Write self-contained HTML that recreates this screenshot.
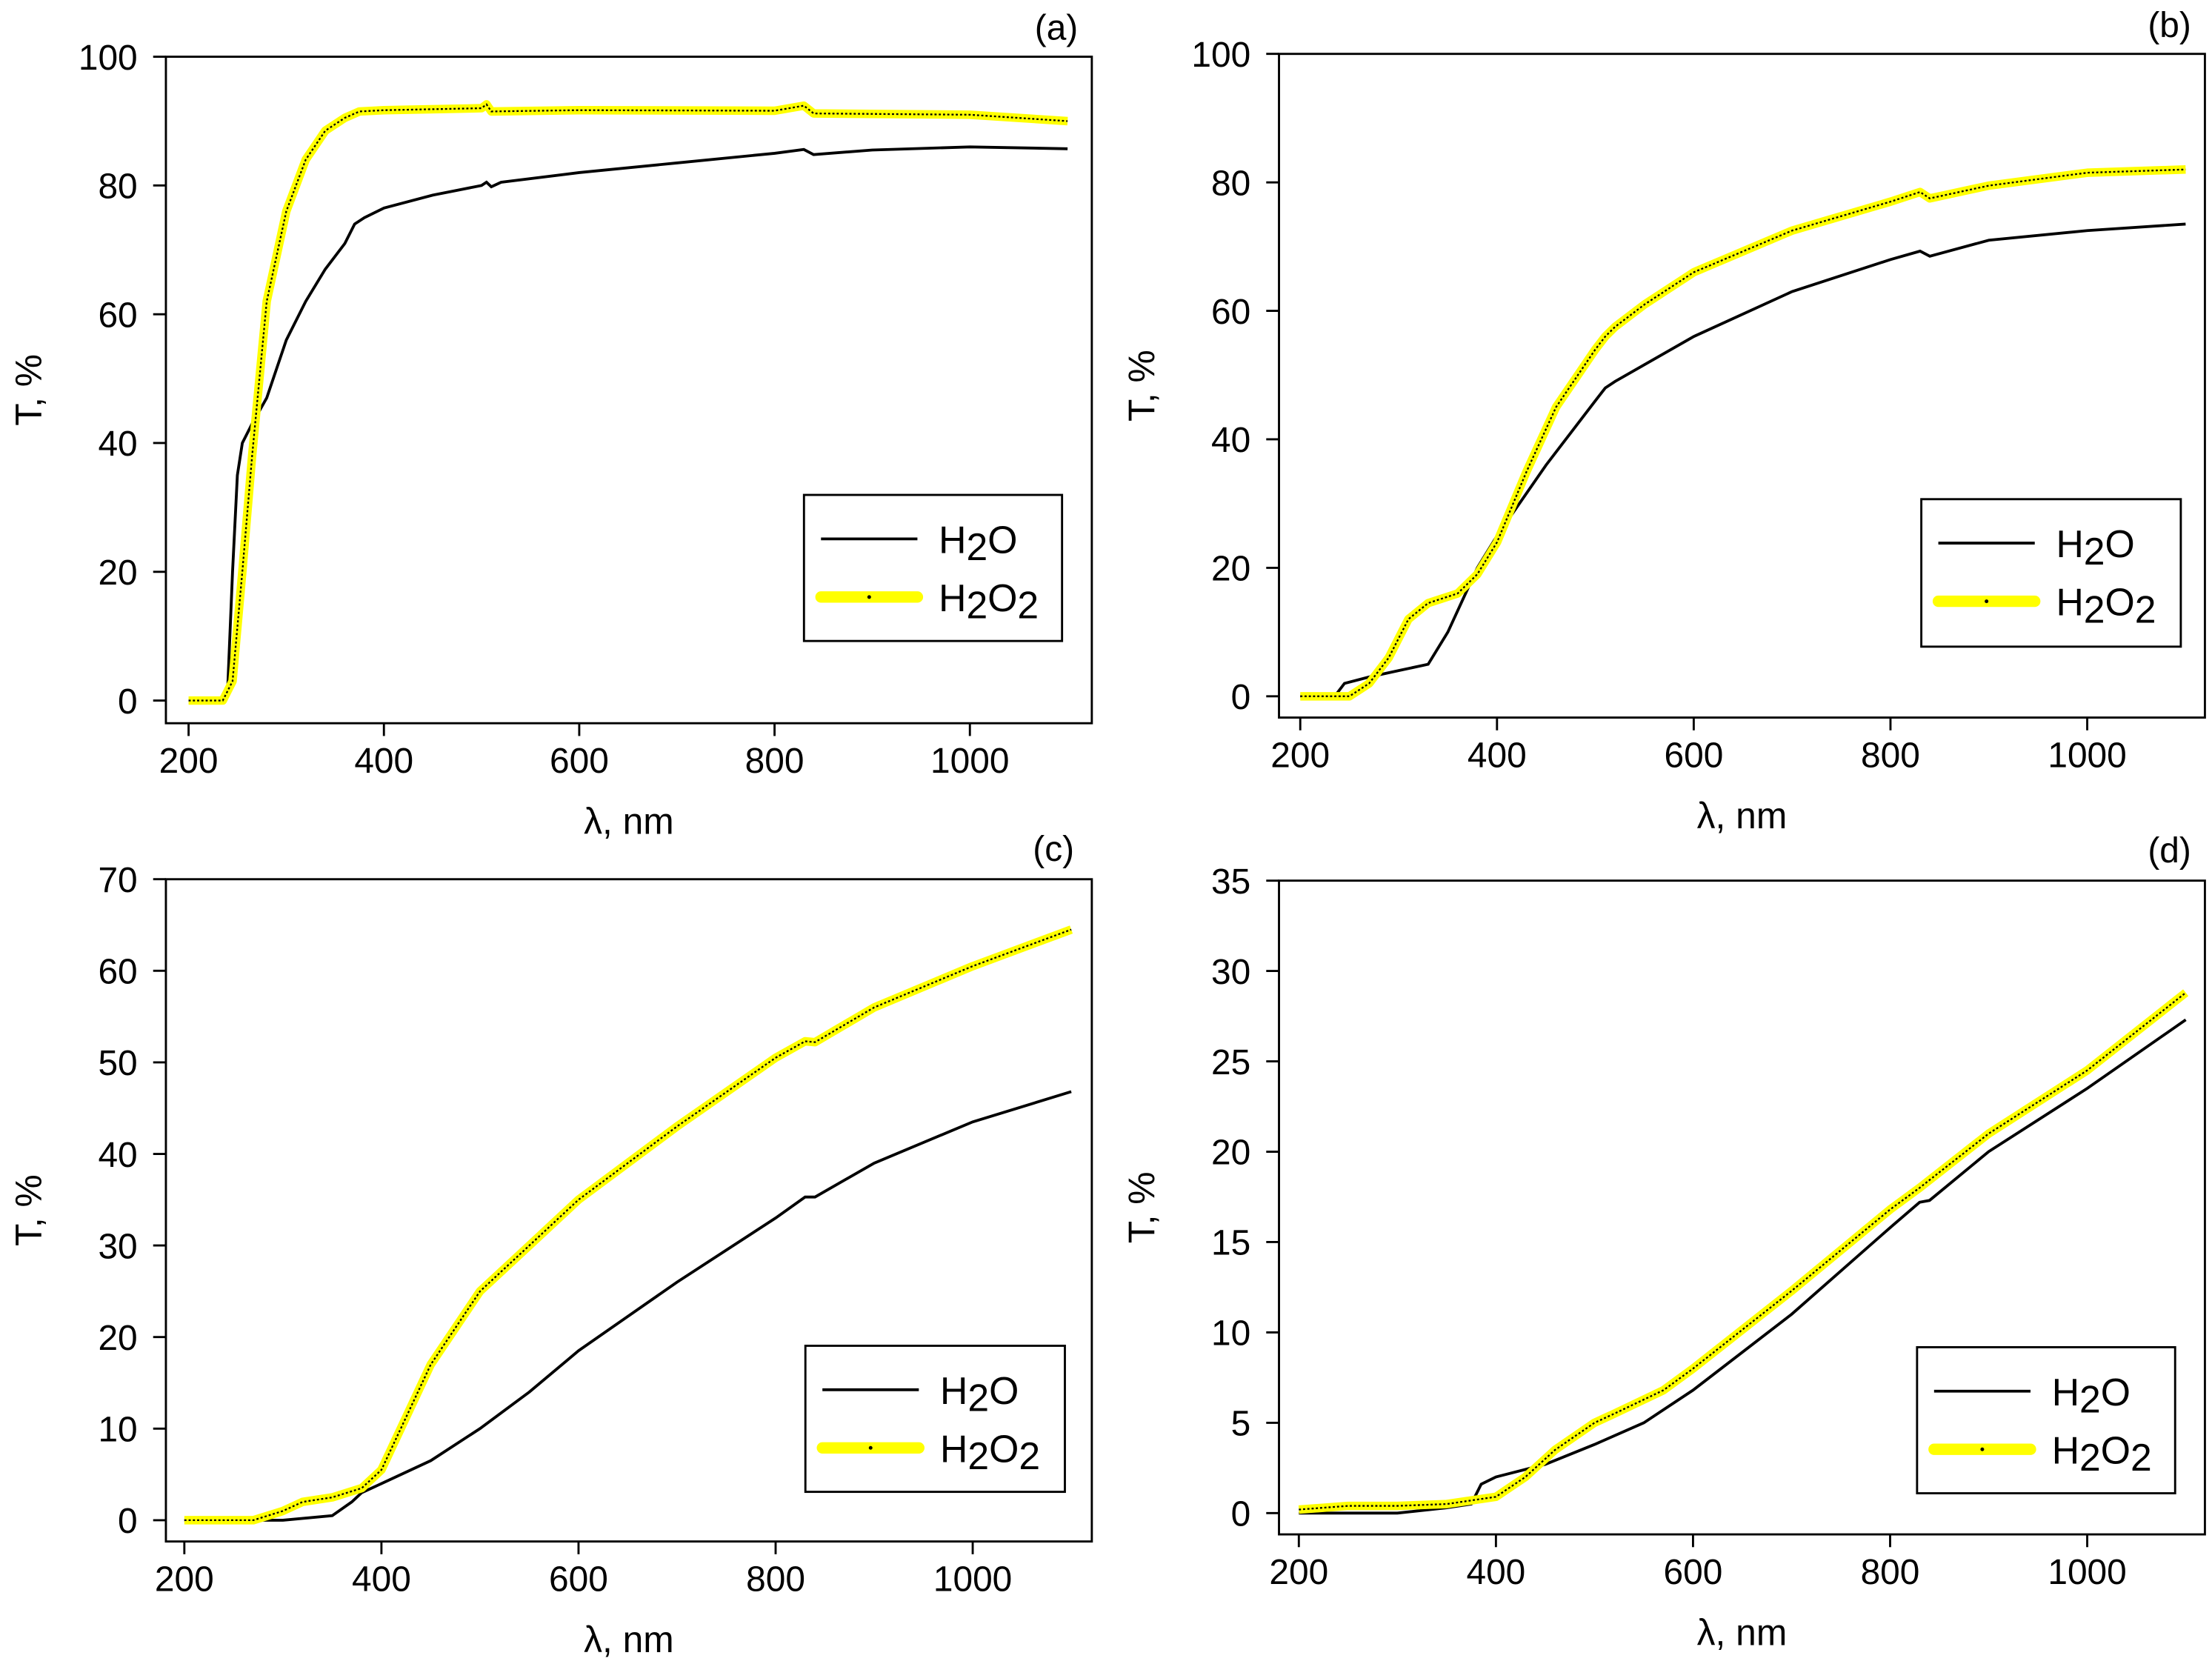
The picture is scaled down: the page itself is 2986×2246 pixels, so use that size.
<!DOCTYPE html>
<html><head><meta charset="utf-8"><style>
html,body{margin:0;padding:0;background:#fff}
svg{display:block}
text{font-family:"Liberation Sans",Arial,sans-serif;fill:#000}
</style></head><body>
<svg id="fig" xmlns="http://www.w3.org/2000/svg" width="2986" height="2246" viewBox="0 0 1560 1173.4"></svg>
<script>
// ---- data ----
const aWlH2O=[200,235,240,245,250,255,265,280,300,320,340,360,370,380,400,450,500,505,510,520,600,700,800,830,840,900,1000,1100];
const aH2O  =[0,0,2,20,35,40,43,47,56,62,67,71,74,75,76.5,78.5,80,80.5,79.8,80.5,82,83.5,85,85.6,84.8,85.5,86,85.7];
const aWlH2O2=[200,235,245,255,265,280,300,320,340,360,375,400,500,505,510,600,800,830,840,1000,1100];
const aH2O2 =[0,0,3,20,38,62,76,84,88.5,90.5,91.5,91.7,92,92.6,91.5,91.7,91.6,92.4,91.2,91,90];
const bWlH2O=[200,235,245,270,300,330,350,380,400,450,500,510,520,600,700,800,830,840,900,1000,1100];
const bH2O  =[0,0,2,3,4,5,10,20,25,36,46,48,49,56,63,68,69.3,68.5,71,72.5,73.5];
const bWlH2O2=[200,250,270,290,310,330,360,380,400,430,460,500,510,520,550,600,700,800,830,840,900,1000,1100];
const bH2O2 =[0,0,2,6,12,14.5,16,19,24,35,45,54,56,57.5,61,66,72.5,77,78.5,77.5,79.5,81.5,82];
const cWlH2O=[200,300,350,370,380,400,450,500,550,600,700,800,830,840,900,1000,1100];
const cH2O  =[0,0,0.5,2,3,4,6.5,10,14,18.5,26,33,35.3,35.3,39,43.5,46.8];
const cWlH2O2=[200,270,300,320,350,380,400,450,500,550,600,700,800,830,840,900,1000,1100];
const cH2O2 =[0,0,1,2,2.5,3.5,5.5,17,25,30,35,43,50.5,52.3,52.2,56,60.5,64.5];
const dWlH2O=[200,250,300,350,375,385,400,450,500,550,600,700,800,830,840,900,1000,1100];
const dH2O  =[0,0,0,0.3,0.5,1.6,2,2.7,3.8,5,6.8,11,15.8,17.2,17.3,20,23.5,27.3];
const dWlH2O2=[200,250,300,350,400,430,460,500,520,570,600,700,800,830,900,1000,1100];
const dH2O2 =[0.2,0.4,0.4,0.5,0.9,2,3.5,5,5.5,6.8,8,12.3,16.8,18,21,24.5,28.8];
const xTicks=[200,400,600,800,1000];
const yTicksAB=[0,20,40,60,80,100];
const yTicksC=[0,10,20,30,40,50,60,70];
const yTicksD=[0,5,10,15,20,25,30,35];

const NS="http://www.w3.org/2000/svg";
const svg=document.getElementById('fig');
function el(t,a,p){const e=document.createElementNS(NS,t);for(const k in a)e.setAttribute(k,a[k]);(p||svg).appendChild(e);return e;}

const panels=[
 {id:'a',box:[117,40,770,510],x0:133,x1:684,y0:494,y1:40,ymax:100,yt:yTicksAB,w1:aWlH2O,s1:aH2O,w2:aWlH2O2,s2:aH2O2,leg:[567,349,749,452],lab:[745,28]},
 {id:'b',box:[902,38,1555,506],x0:917,x1:1472,y0:491,y1:38,ymax:100,yt:yTicksAB,w1:bWlH2O,s1:bH2O,w2:bWlH2O2,s2:bH2O2,leg:[1355,352,1538,456],lab:[1530,26]},
 {id:'c',box:[117,620,770,1087],x0:130,x1:686,y0:1072,y1:620,ymax:70,yt:yTicksC,w1:cWlH2O,s1:cH2O,w2:cWlH2O2,s2:cH2O2,leg:[568,949,751,1052],lab:[743,607]},
 {id:'d',box:[902,621,1555,1082],x0:916,x1:1472,y0:1067,y1:621,ymax:35,yt:yTicksD,w1:dWlH2O,s1:dH2O,w2:dWlH2O2,s2:dH2O2,leg:[1352,950,1534,1053],lab:[1530,608]}
];

panels.forEach(P=>{
 const g=el('g',{});
 
 
 const X=v=>P.x0+(v-200)/800*(P.x1-P.x0);
 const Y=v=>P.y0+v/P.ymax*(P.y1-P.y0);
 const [bx0,by0,bx1,by1]=P.box;
 const fr=el('rect',{x:bx0,y:by0,width:bx1-bx0,height:by1-by0,fill:'none',stroke:'#000','stroke-width':1.5},g);
 
 
 xTicks.forEach(t=>{
  el('line',{x1:X(t),x2:X(t),y1:by1,y2:by1+9,stroke:'#000','stroke-width':1.5},g);
  const tx=el('text',{x:X(t),y:by1+35,'font-size':25,'text-anchor':'middle'},g);tx.textContent=t;
  
  
 });
 P.yt.forEach(t=>{
  el('line',{x1:bx0-9,x2:bx0,y1:Y(t),y2:Y(t),stroke:'#000','stroke-width':1.5},g);
  const tx=el('text',{x:bx0-20,y:Y(t)+9,'font-size':25,'text-anchor':'end'},g);tx.textContent=t;
  
  
 });
 const xl=el('text',{x:(bx0+bx1)/2,y:by1+78,'font-size':26,'text-anchor':'middle'},g);xl.textContent='λ, nm';
 
 
 const yc=(by0+by1)/2;
 const yl=el('text',{x:0,y:0,'font-size':26,'text-anchor':'middle',transform:`translate(${bx0-88},${yc}) rotate(-90)`},g);yl.textContent='T, %';
 
 
 const lb=el('text',{x:P.lab[0],y:P.lab[1],'font-size':25,'text-anchor':'middle'},g);lb.textContent='('+P.id+')';
 
 
 const pts=(w,s)=>w.map((v,i)=>X(v).toFixed(1)+','+Y(s[i]).toFixed(1)).join(' ');
 const p1=el('polyline',{points:pts(P.w1,P.s1),fill:'none',stroke:'#000','stroke-width':2},g);
 
 
 const p2=el('polyline',{points:pts(P.w2,P.s2),fill:'none',stroke:'#ffff00','stroke-width':6,'stroke-linejoin':'round'},g);
 
 
 el('polyline',{points:pts(P.w2,P.s2),fill:'none',stroke:'#000','stroke-width':1.2,'stroke-dasharray':'1.5 1.5'},g);
 const [lx0,ly0,lx1,ly1]=P.leg;
 const lg=el('g',{},g);
 
 
 el('rect',{x:lx0,y:ly0,width:lx1-lx0,height:ly1-ly0,fill:'#fff',stroke:'#000','stroke-width':1.5},lg);
 const r1=ly0+31,r2=ly0+72;
 el('line',{x1:lx0+12,x2:lx0+80,y1:r1,y2:r1,stroke:'#000','stroke-width':2},lg);
 el('line',{x1:lx0+12,x2:lx0+80,y1:r2,y2:r2,stroke:'#ffff00','stroke-width':8,'stroke-linecap':'round'},lg);
 el('circle',{cx:lx0+46,cy:r2,r:1.3,fill:'#000'},lg);
 const t1=el('text',{x:lx0+95,y:r1+10,'font-size':27},lg);
 t1.innerHTML='H<tspan dy="5">2</tspan><tspan dy="-5">O</tspan>';
 
 
 const t2=el('text',{x:lx0+95,y:r2+10,'font-size':27},lg);
 t2.innerHTML='H<tspan dy="5">2</tspan><tspan dy="-5">O</tspan><tspan dy="5">2</tspan>';
 
 
});
</script>
</body></html>
